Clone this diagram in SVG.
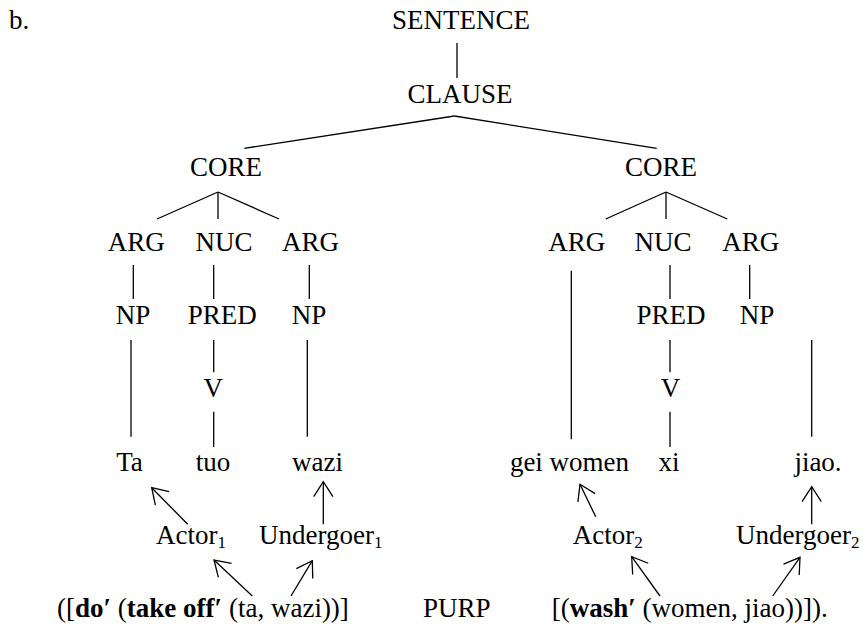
<svg xmlns="http://www.w3.org/2000/svg" width="865" height="626" viewBox="0 0 865 626">
<style>
text{font-family:"Liberation Serif","Times New Roman",serif;font-size:27px;fill:#000}
.c{text-anchor:middle}
.l{stroke:#000;stroke-width:1.3;fill:none}
.a{stroke:#000;stroke-width:1.3;fill:none;marker-end:url(#ah)}
.sub{font-size:17px}
</style>
<defs>
<marker id="ah" markerUnits="userSpaceOnUse" markerWidth="40" markerHeight="40" viewBox="-20 -20 40 40" refX="0" refY="0" orient="auto">
<path d="M-15,-9.6 L0,0 L-15,9.6" fill="none" stroke="#000" stroke-width="1.3"/>
</marker>
</defs>
<rect width="865" height="626" fill="#fff"/>
<g id="connectors">
<line class="l" x1="457" y1="43" x2="457" y2="78"/>
<line class="l" x1="454.4" y1="116" x2="244.4" y2="148.3"/>
<line class="l" x1="454.4" y1="116" x2="656.7" y2="148.3"/>
<line class="l" x1="218" y1="192" x2="157" y2="219"/>
<line class="l" x1="218" y1="192" x2="218" y2="219"/>
<line class="l" x1="218" y1="192" x2="279" y2="219"/>
<line class="l" x1="666" y1="192" x2="605.7" y2="219"/>
<line class="l" x1="666" y1="192" x2="666" y2="219"/>
<line class="l" x1="666" y1="192" x2="727.3" y2="219"/>
<line class="l" x1="133.3" y1="265" x2="133.3" y2="299"/>
<line class="l" x1="213.7" y1="265" x2="213.7" y2="299"/>
<line class="l" x1="309.3" y1="265" x2="309.3" y2="299"/>
<line class="l" x1="571.3" y1="270.7" x2="571.3" y2="439.3"/>
<line class="l" x1="670" y1="265" x2="670" y2="299"/>
<line class="l" x1="749.7" y1="265" x2="749.7" y2="299"/>
<line class="l" x1="131" y1="340" x2="131" y2="436.7"/>
<line class="l" x1="213.7" y1="340" x2="213.7" y2="372.3"/>
<line class="l" x1="307.3" y1="340" x2="307.3" y2="436.7"/>
<line class="l" x1="670" y1="340" x2="670" y2="372.3"/>
<line class="l" x1="811.7" y1="340" x2="811.7" y2="436.7"/>
<line class="l" x1="213.7" y1="411.7" x2="213.7" y2="447"/>
<line class="l" x1="670" y1="411.7" x2="670" y2="447"/>
<line class="a" x1="187.7" y1="524.3" x2="151.7" y2="487.7"/>
<line class="a" x1="323.3" y1="524.3" x2="323.3" y2="481.7"/>
<line class="a" x1="252.3" y1="596" x2="214" y2="560"/>
<line class="a" x1="291" y1="596" x2="312.3" y2="560.7"/>
<line class="a" x1="595.7" y1="516.7" x2="580" y2="484.3"/>
<line class="a" x1="811.7" y1="524.3" x2="811.7" y2="486.7"/>
<line class="a" x1="660" y1="596" x2="631.7" y2="556.7"/>
<line class="a" x1="772.7" y1="596" x2="800" y2="557.3"/>
</g>
<g id="label-b"><text x="9" y="29">b.</text></g>
<g id="sentence"><text class="c" x="461" y="29">SENTENCE</text></g>
<g id="clause"><text class="c" x="460" y="103">CLAUSE</text></g>
<g id="core1"><text class="c" x="226" y="176">CORE</text></g>
<g id="core2"><text class="c" x="661" y="176">CORE</text></g>
<g id="arg1"><text class="c" x="136.3" y="251">ARG</text></g>
<g id="nuc1"><text class="c" x="224" y="251">NUC</text></g>
<g id="arg2"><text class="c" x="310.5" y="251">ARG</text></g>
<g id="arg3"><text class="c" x="576.7" y="251">ARG</text></g>
<g id="nuc2"><text class="c" x="663" y="251">NUC</text></g>
<g id="arg4"><text class="c" x="750.7" y="251">ARG</text></g>
<g id="np1"><text class="c" x="133" y="324">NP</text></g>
<g id="pred1"><text class="c" x="222.3" y="324">PRED</text></g>
<g id="np2"><text class="c" x="309" y="324">NP</text></g>
<g id="pred2"><text class="c" x="671" y="324">PRED</text></g>
<g id="np3"><text class="c" x="757" y="324">NP</text></g>
<g id="v1"><text class="c" x="213.3" y="397">V</text></g>
<g id="v2"><text class="c" x="670.5" y="397">V</text></g>
<g id="ta"><text class="c" x="129.5" y="471">Ta</text></g>
<g id="tuo"><text class="c" x="213" y="471">tuo</text></g>
<g id="wazi"><text class="c" x="317.5" y="471">wazi</text></g>
<g id="gei-women"><text class="c" x="569.5" y="471">gei women</text></g>
<g id="xi"><text class="c" x="669" y="471">xi</text></g>
<g id="jiao"><text class="c" x="818" y="471">jiao.</text></g>
<g id="actor1"><text x="156" y="544">Actor<tspan class="sub" dy="4">1</tspan></text></g>
<g id="undergoer1"><text x="259" y="544">Undergoer<tspan class="sub" dy="4">1</tspan></text></g>
<g id="actor2"><text x="572.7" y="544">Actor<tspan class="sub" dy="4">2</tspan></text></g>
<g id="undergoer2"><text x="736" y="544">Undergoer<tspan class="sub" dy="4">2</tspan></text></g>
<g id="formula1"><text x="57" y="617">([<tspan font-weight="bold">do′</tspan> (<tspan font-weight="bold">take off′</tspan> (ta, wazi))]</text></g>
<g id="purp"><text x="423" y="617">PURP</text></g>
<g id="formula2"><text x="551.7" y="617">[(<tspan font-weight="bold">wash′</tspan> (women, jiao))]).</text></g>
</svg>
